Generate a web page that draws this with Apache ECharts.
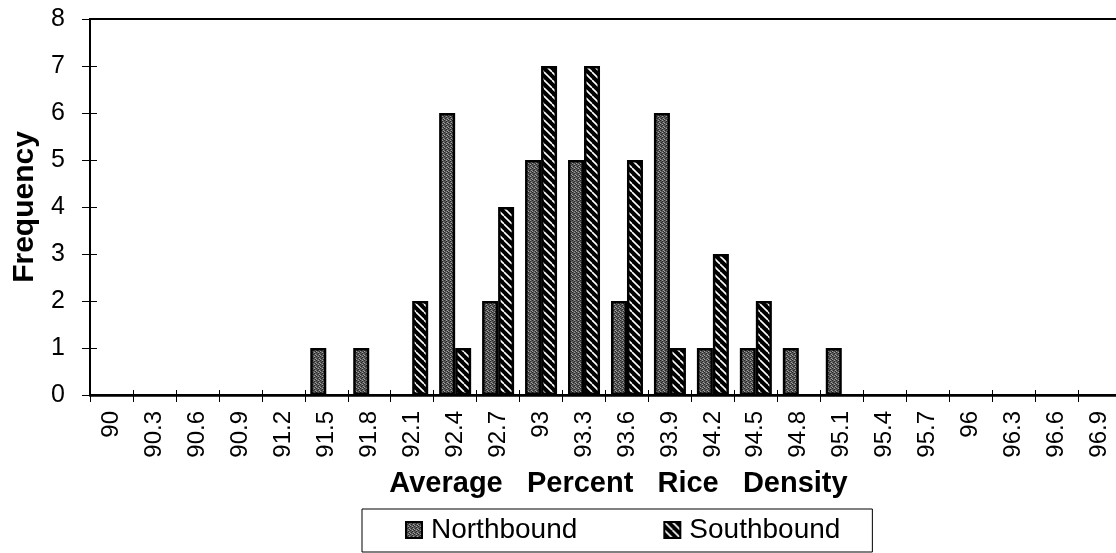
<!DOCTYPE html>
<html>
<head>
<meta charset="utf-8">
<script src="https://cdn.jsdelivr.net/npm/echarts@6/dist/echarts.min.js"></script>
<style>
  html, body { margin: 0; padding: 0; background: #fff; }
  #chart { width: 1116px; height: 553px; }
</style>
</head>
<body>
<div id="chart"></div>
<script>
// categories (average percent rice density)
const densities = ["90", "90.3", "90.6", "90.9", "91.2", "91.5", "91.8", "92.1", "92.4", "92.7", "93", "93.3",
  "93.6", "93.9", "94.2", "94.5", "94.8", "95.1", "95.4", "95.7", "96", "96.3", "96.6", "96.9"];
const northbound = [0, 0, 0, 0, 0, 1, 1, 0, 6, 2, 5, 5, 2, 6, 1, 1, 1, 1, 0, 0, 0, 0, 0, 0];
const southbound = [0, 0, 0, 0, 0, 0, 0, 2, 1, 4, 7, 7, 5, 1, 3, 2, 0, 0, 0, 0, 0, 0, 0, 0];
const yTicks = [0, 1, 2, 3, 4, 5, 6, 7, 8];

const FONT = "Liberation Sans, Arial, sans-serif";

// speckled gray fill for northbound
function dotPattern() {
  const c = document.createElement("canvas");
  c.width = 4; c.height = 4;
  const g = c.getContext("2d");
  g.fillStyle = "#5a5a5a";
  g.fillRect(0, 0, 4, 4);
  g.fillStyle = "#262626";
  g.fillRect(0, 0, 1, 1); g.fillRect(2, 1, 1, 1); g.fillRect(1, 2, 1, 1); g.fillRect(3, 3, 1, 1);
  g.fillStyle = "#a0a0a0";
  g.fillRect(2, 0, 1, 1); g.fillRect(0, 3, 1, 1); g.fillRect(3, 2, 1, 1);
  return c;
}

// black with white diagonal hatch for southbound
function hatchPattern() {
  const c = document.createElement("canvas");
  c.width = 8; c.height = 8;
  const g = c.getContext("2d");
  g.fillStyle = "#000";
  g.fillRect(0, 0, 8, 8);
  g.strokeStyle = "#fff";
  g.lineWidth = 1.6;
  [-8, 0, 8].forEach(function (o) {
    g.beginPath();
    g.moveTo(o, 0);
    g.lineTo(o + 8, 8);
    g.stroke();
  });
  return c;
}

const chart = echarts.init(document.getElementById("chart"));

const option = {
  backgroundColor: "#fff",
  animation: false,
  textStyle: { fontFamily: FONT },
  grid: {
    left: 90,
    right: -5,
    top: 19,
    bottom: 158,
    containLabel: false,
    outerBoundsMode: "none",
    show: true,
    borderColor: "#000",
    borderWidth: 2
  },
  legend: {
    left: 362,
    top: 509,
    data: ["Northbound", "Southbound"],
    icon: "rect",
    itemWidth: 16,
    itemHeight: 16,
    itemGap: 86,
    padding: [7, 32, 8, 43],
    borderColor: "#000",
    borderWidth: 1,
    textStyle: { color: "#000", fontSize: 28, fontFamily: FONT, padding: [0, 0, 0, 4] }
  },
  xAxis: [
    {
      type: "category",
      data: densities,
      name: "Average   Percent   Rice   Density",
      nameLocation: "middle",
      nameMoveOverlap: false,
      nameGap: 74,
      nameTextStyle: {
        color: "#000",
        fontSize: 29,
        fontWeight: "bold",
        fontFamily: FONT,
        padding: [0, 0, 0, 26]
      },
      axisLine: { lineStyle: { color: "#000", width: 2.5 } },
      axisTick: { show: true, length: 7, lineStyle: { color: "#000", width: 1 } },
      axisLabel: {
        rotate: 90,
        interval: 0,
        margin: 16,
        color: "#000",
        fontSize: 24,
        fontFamily: FONT
      },
      splitLine: { show: false }
    },
    {
      // ticks crossing inside the plot
      type: "category",
      data: densities,
      position: "bottom",
      axisLine: { show: false },
      axisTick: { show: true, inside: true, length: 5, lineStyle: { color: "#000", width: 1 } },
      axisLabel: { show: false },
      splitLine: { show: false }
    }
  ],
  yAxis: [
    {
      type: "value",
      min: yTicks[0],
      max: yTicks[yTicks.length - 1],
      interval: 1,
      name: "Frequency",
      nameLocation: "middle",
      nameMoveOverlap: false,
      nameGap: 50,
      nameTextStyle: { color: "#000", fontSize: 30, fontWeight: "bold", fontFamily: FONT },
      axisLine: { show: true, lineStyle: { color: "#000", width: 2 } },
      axisTick: { show: true, length: 8, lineStyle: { color: "#000", width: 1 } },
      axisLabel: { margin: 25, color: "#000", fontSize: 25, fontFamily: FONT },
      splitLine: { show: false }
    },
    {
      type: "value",
      position: "left",
      min: yTicks[0],
      max: yTicks[yTicks.length - 1],
      interval: 1,
      axisLine: { show: false },
      axisTick: { show: true, inside: true, length: 7, lineStyle: { color: "#000", width: 1 } },
      axisLabel: { show: false },
      splitLine: { show: false }
    }
  ],
  series: [
    {
      name: "Northbound",
      type: "bar",
      barWidth: 16,
      barGap: "0%",
      data: northbound.map(function (v) { return v === 0 ? "-" : v; }),
      itemStyle: {
        color: { image: dotPattern(), repeat: "repeat" },
        borderColor: "#000",
        borderWidth: 2.5
      }
    },
    {
      name: "Southbound",
      type: "bar",
      barWidth: 16,
      barGap: "0%",
      data: southbound.map(function (v) { return v === 0 ? "-" : v; }),
      itemStyle: {
        color: { image: hatchPattern(), repeat: "repeat" },
        borderColor: "#000",
        borderWidth: 2.5
      }
    }
  ]
};

chart.setOption(option);
</script>
</body>
</html>
